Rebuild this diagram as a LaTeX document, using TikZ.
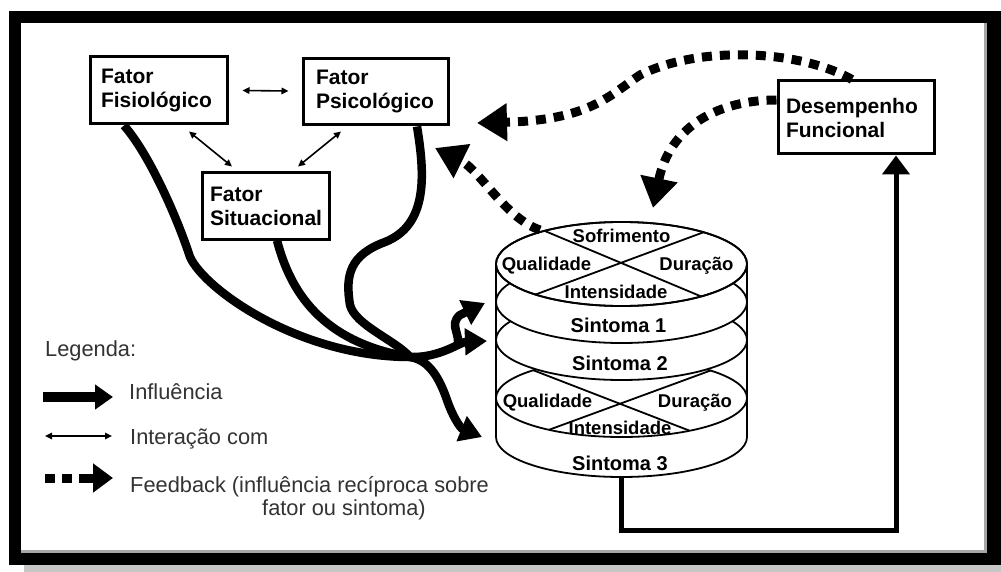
\documentclass[tikz,border=0pt]{standalone}
\usepackage{fontspec}
\setmainfont{Liberation Sans}
\usetikzlibrary{arrows.meta}
\begin{document}
\begin{tikzpicture}[x=1pt,y=-1pt,
  box/.style={draw, line width=3pt, align=left, inner ysep=0pt, font=\bfseries\fontsize{21}{24}\selectfont},
  lbl/.style={font=\bfseries\fontsize{18.5}{20}\selectfont, anchor=base, inner sep=0pt},
  sint/.style={font=\bfseries\fontsize{20}{22}\selectfont, anchor=base, inner sep=0pt},
  leg/.style={font=\fontsize{21.8}{24}\selectfont, text=black!80, anchor=base west, inner sep=0pt},
  infl/.style={line width=8.5pt, line join=round, -{Triangle[length=22pt,width=26pt]}},
  inflz/.style={line width=8.5pt, line join=round},
  inter/.style={line width=1.6pt, {Triangle[length=7pt,width=6.5pt]}-{Triangle[length=7pt,width=6.5pt]}},
  fb/.style={line width=9pt, dash pattern=on 10pt off 8pt, -{Triangle[length=30pt,width=36pt]}},
  cyl/.style={line width=1.8pt, draw, fill=white},
  xline/.style={line width=1.8pt},
]
\useasboundingbox (0,0) rectangle (1001,572);
% frame
\fill[black] (9,11) rectangle (1001,565);
\fill[gray!70] (21,23) rectangle (987,553);
\fill[white] (21,23) rectangle (984,550);
\fill[gray!45] (24,565) rectangle (1001,572);

% boxes
\node[box, minimum width=137pt, minimum height=67pt, text width=115pt, inner xsep=11pt] (fisio) at (158.5,90.5) {Fator\\Fisiológico};
\node[box, minimum width=145pt, minimum height=66pt, text width=119pt, inner xsep=13pt] (psico) at (375.5,92) {Fator\\Psicológico};
\node[box, minimum width=127pt, minimum height=66pt, text width=111pt, inner xsep=8pt] (situ) at (265.5,206) {Fator\\Situacional};
\node[box, minimum width=156pt, minimum height=73pt, text width=140pt, inner xsep=8pt] (desemp) at (856,117.5) {Desempenho\\Funcional};

% interactions
\draw[inter] ([xshift=14pt]fisio.east) -- ([xshift=-13pt,yshift=1pt]psico.west);
\draw[inter] ([xshift=30.5pt,yshift=-6pt]fisio.south) -- ([xshift=-33.5pt,yshift=5pt]situ.north);
\draw[inter] ([xshift=-34.5pt,yshift=-5pt]psico.south) -- ([xshift=32.5pt,yshift=5pt]situ.north);

% cylinder
\path[fill=white] (496,264) -- (496,437) arc[start angle=180, end angle=360, x radius=125.5pt, y radius=40pt] -- (747,264) -- cycle;
\draw[line width=1.8pt] (496,264) -- (496,437) arc[start angle=180, end angle=360, x radius=125.5pt, y radius=40pt] -- (747,264);
\path[cyl] (621.5,398) ellipse[x radius=125.5pt, y radius=39pt];
\begin{scope}
  \clip (621.5,398) ellipse[x radius=125.5pt, y radius=39pt];
  \draw[xline] (490,353.5) -- (733,447.5);
  \draw[xline] (752,355.3) -- (503,446.7);
\end{scope}
\path[cyl] (621.5,340) ellipse[x radius=125.5pt, y radius=40pt];
\path[cyl] (621.5,302) ellipse[x radius=125.5pt, y radius=41pt];
\path[cyl] (621.5,264) ellipse[x radius=125.5pt, y radius=42pt];
\begin{scope}
  \clip (621.5,264) ellipse[x radius=125.5pt, y radius=42pt];
  \draw[xline] (510,216.4) -- (750,316.9);
  \draw[xline] (743,217.6) -- (493,310.3);
\end{scope}
\draw[line width=1.8pt] (621.5,264) ellipse[x radius=125.5pt, y radius=42pt];

\node[lbl] (sof) at (621.5,243) {Sofrimento};
\node[lbl] (qual1) at (546.5,270) {Qualidade};
\node[lbl] (dur1) at (696.5,270) {Duração};
\node[lbl] (int1) at (616,298) {Intensidade};
\node[sint] (s1) at (618.5,332) {Sintoma 1};
\node[sint] (s2) at (620,370) {Sintoma 2};
\node[lbl] (qual2) at (547.5,407) {Qualidade};
\node[lbl] (dur2) at (695,407) {Duração};
\node[lbl] (int2) at (620,434) {Intensidade};
\node[sint] (s3) at (620,470) {Sintoma 3};

% influence curves
\coordinate (M) at (410,357);
\coordinate (B) at (457,347);
\coordinate (t1) at (485,303);
\coordinate (t2) at (487,341);
\coordinate (t3) at (482,437);
\draw[inflz] ([xshift=-34.5pt]fisio.south) .. controls (150,155) and (178,220) .. (190,257) .. controls (205,290) and (300,357) .. (M);
\draw[inflz] ([xshift=11.5pt]situ.south) .. controls (290,290) and (320,342) .. (M);
\draw[inflz] ([xshift=41.5pt]psico.south) .. controls (425,175) and (428,225) .. (385,242) .. controls (350,255) and (345,275) .. (350,305) .. controls (355,325) and (395,340) .. (M);
\draw[infl] (M) .. controls (440,358) and (460,342) .. (t2);
\draw[infl] (B) .. controls (462,335) and (448,325) .. (460,315) -- (t1);
\draw[infl] (M) .. controls (430,360) and (440,380) .. (447,400) .. controls (452,415) and (460,428) .. (t3);

% feedback
\coordinate (f1) at (477,123);
\coordinate (f2) at (653,208);
\coordinate (f3s) at (540,230);
\coordinate (f3) at (435,148);
\draw[fb] ([xshift=-4pt]desemp.north) .. controls (800,50) and (700,45) .. (640,75) .. controls (610,95) and (590,120) .. (f1);
\draw[fb] ([yshift=17.5pt]desemp.west) .. controls (720,100) and (670,125) .. (f2);
\draw[fb] (f3s) .. controls (505,218) and (480,170) .. (f3);

% performance link
\coordinate (cylbot) at (621,477);
\coordinate (c1) at (621,530);
\coordinate (c2) at (896,530);
\draw[line width=5pt, -{Triangle[length=19pt,width=27pt]}] (cylbot) -- (c1) -- (c2) -- ([xshift=40pt]desemp.south);

% legend
\node[leg] (legenda) at (45,356) {Legenda:};
\coordinate (la1) at (43,397);
\coordinate (lb1) at (113,397);
\draw[line width=10pt, -{Triangle[length=18pt,width=24pt]}] (la1) -- (lb1);
\node[leg] (linf) at (129,399) {Influência};
\coordinate (la2) at (45,436);
\coordinate (lb2) at (112,436);
\draw[inter] (la2) -- (lb2);
\node[leg] (lint) at (130,444) {Interação com};
\coordinate (la3) at (45,478);
\coordinate (lb3) at (113,478);
\draw[line width=9pt, dash pattern=on 10pt off 7pt on 10pt off 7pt on 30pt, -{Triangle[length=20pt,width=28pt]}] (la3) -- (lb3);
\node[leg] (lfb) at (130,492) {Feedback (influência recíproca sobre};
\node[leg] (lfb2) at (262,515) {fator ou sintoma)};
\end{tikzpicture}
\end{document}
